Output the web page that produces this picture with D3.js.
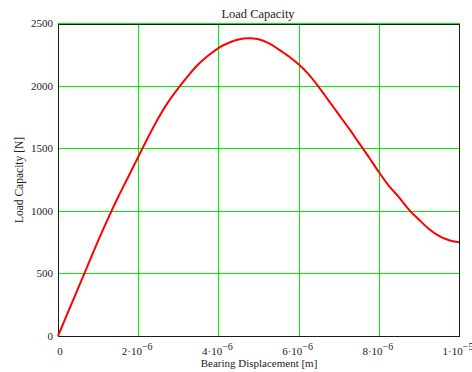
<!DOCTYPE html>
<html><head><meta charset="utf-8">
<script src="https://cdn.jsdelivr.net/npm/d3@7"></script>
<style>body{margin:0;background:#fff}svg{display:block}text{font-family:"Liberation Serif","DejaVu Serif",serif;fill:#222}</style>
</head><body>
<script>
const xs = [0,0.25,0.5,0.75,1.0,1.25,1.5,1.75,2.0,2.25,2.5,2.75,3.0,3.25,3.5,3.75,4.0,4.25,4.5,4.75,5.0,5.25,5.5,5.75,6.0,6.25,6.5,6.75,7.0,7.25,7.5,7.75,8.0,8.25,8.5,8.75,9.0,9.25,9.5,9.75,10].map(v=>v*1e-6);
const loads = [0,190,380,570,760,940,1110,1270,1430,1590,1740,1870,1980,2080,2170,2240,2300,2340,2368,2378,2370,2340,2290,2235,2170,2090,1990,1880,1770,1660,1545,1430,1310,1200,1110,1010,930,855,800,765,748];
const xTicks = [0,2e-6,4e-6,6e-6,8e-6,1e-5];
const xTickMant = ["0","2","4","6","8","1"];
const xTickExp = ["","\u22126","\u22126","\u22126","\u22126","\u22125"];
const yTicks = [0,500,1000,1500,2000,2500];

const W=472,H=372, L=58,R=459,T=23,B=336;
const svg=d3.select("body").append("svg").attr("width",W).attr("height",H);
const x=d3.scaleLinear().domain([0,1e-5]).range([L,R]);
const y=d3.scaleLinear().domain([0,2500]).range([B,T]);

const g=svg.append("g");
g.selectAll("line.gx").data(xTicks).join("line")
 .attr("x1",d=>Math.round(x(d))+0.5).attr("x2",d=>Math.round(x(d))+0.5)
 .attr("y1",T).attr("y2",B).attr("stroke","#00ee00").attr("stroke-width",1);
g.selectAll("line.gy").data(yTicks).join("line")
 .attr("y1",d=>Math.round(y(d))+0.5).attr("y2",d=>Math.round(y(d))+0.5)
 .attr("x1",L).attr("x2",R).attr("stroke","#00ee00").attr("stroke-width",1);
svg.append("rect").attr("x",L+0.5).attr("y",T+1.5).attr("width",R-L).attr("height",B-T-1)
 .attr("fill","none").attr("stroke","#112211").attr("stroke-width",1);
svg.append("line").attr("x1",L).attr("x2",R+1).attr("y1",T+0.5).attr("y2",T+0.5).attr("stroke","#00ee00");

const line=d3.line().x((d,i)=>x(xs[i])).y(d=>y(d)).curve(d3.curveCatmullRom);
svg.append("path").datum(loads).attr("d",line).attr("fill","none").attr("stroke","#ff0000").attr("stroke-width",2);

// y axis
const ya=svg.append("g").attr("transform",`translate(${L-5},0)`).call(d3.axisLeft(y).tickValues(yTicks).tickSize(0).tickFormat(d3.format("d")));
ya.select(".domain").remove();
ya.selectAll("text").attr("x",0).style("font-family",'"Liberation Serif",serif').style("font-size","11px").attr("fill","#222");

// x axis
xTicks.forEach((d,i)=>{
  const t=svg.append("text").attr("x",x(d)+(i==0?2:-1)).attr("y",355).attr("text-anchor","middle").style("font-size","11px");
  if(xTickExp[i]===""){t.text(xTickMant[i]);}
  else{
    t.append("tspan").text(xTickMant[i]+"\u00b710");
    t.append("tspan").attr("dy",-5).style("font-size","10px").text(xTickExp[i]);
  }
});
svg.append("text").attr("x",259).attr("y",367).attr("text-anchor","middle").style("font-size","11px").text("Bearing Displacement [m]");
svg.append("text").attr("x",258).attr("y",17.5).attr("text-anchor","middle").style("font-size","12.5px").text("Load Capacity");
svg.append("text").attr("transform","translate(23,180) rotate(-90)").attr("text-anchor","middle").style("font-size","11.5px").text("Load Capacity [N]");
</script>
</body></html>
